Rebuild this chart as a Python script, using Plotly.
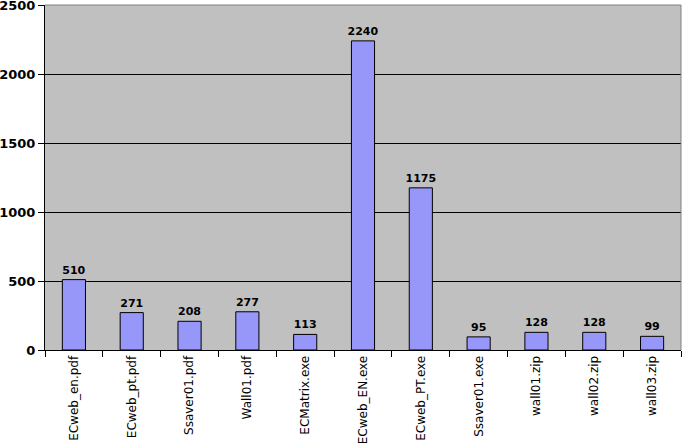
import plotly.graph_objects as go

categories = ["ECweb_en.pdf", "ECweb_pt.pdf", "Ssaver01.pdf", "Wall01.pdf", "ECMatrix.exe",
              "ECweb_EN.exe", "ECweb_PT.exe", "Ssaver01.exe", "wall01.zip", "wall02.zip", "wall03.zip"]
values = [510, 271, 208, 277, 113, 2240, 1175, 95, 128, 128, 99]
y_ticks = [0, 500, 1000, 1500, 2000, 2500]

fig = go.Figure()
fig.add_trace(go.Bar(
    x=categories, y=values,
    marker=dict(color="#9797FA", line=dict(color="#000000", width=1)),
    width=0.4,
    text=[str(v) for v in values],
    textposition="outside",
    constraintext="none",
    textfont=dict(family="DejaVu Sans", size=11, color="#000000", weight=700),
    cliponaxis=False,
))

fig.update_layout(
    width=687, height=444,
    margin=dict(l=45, r=6, t=5, b=94),
    paper_bgcolor="#FFFFFF",
    plot_bgcolor="#C0C0C0",
    showlegend=False,
    xaxis=dict(
        type="category",
        automargin=False,
        tickangle=-90,
        tickfont=dict(family="DejaVu Sans", size=12, color="#000000"),
        ticks="outside", ticklen=6, tickcolor="#000000",
        tickson="boundaries",
        showline=True, linecolor="#000000", linewidth=1,
        mirror=False,
        showgrid=False,
        ticklabeloverflow="allow",
    ),
    yaxis=dict(
        automargin=False,
        range=[0, 2500],
        tickvals=y_ticks,
        tickfont=dict(family="DejaVu Sans", size=13, color="#000000", weight=700),
        ticks="outside", ticklen=6, tickcolor="#000000",
        showline=True, linecolor="#000000", linewidth=1,
        showgrid=True, gridcolor="#000000", gridwidth=1,
        zeroline=False,
        ticklabeloverflow="allow",
    ),
)
# gray top/right border of plot area
fig.add_shape(type="line", xref="paper", yref="paper", x0=0, x1=1, y0=1, y1=1,
              line=dict(color="#808080", width=1))
fig.add_shape(type="line", xref="paper", yref="paper", x0=1, x1=1, y0=0, y1=1,
              line=dict(color="#808080", width=1))

fig.write_html("out.html", config={"displayModeBar": False},
               post_script="document.body.style.margin='0px';")
